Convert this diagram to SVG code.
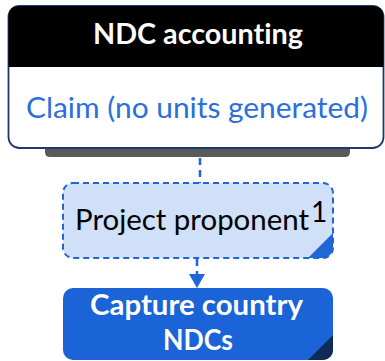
<svg xmlns="http://www.w3.org/2000/svg" width="385" height="361" viewBox="0 0 385 361">
  <style>
    .t { font-family: Lato, "Open Sans", "Liberation Sans", sans-serif; font-size: 28px; font-variant-ligatures: none; }
    .b { font-weight: bold; }
    .conn { stroke: #1f66d6; stroke-width: 2.5; fill: none; stroke-dasharray: 7 5; }
  </style>
  <defs>
    <clipPath id="clipProj"><rect x="63" y="183" width="270" height="75" rx="10"/></clipPath>
    <clipPath id="clipCap"><rect x="63" y="288" width="270" height="72" rx="10"/></clipPath>
  </defs>

  <!-- NDC accounting card with shadow tab -->
  <g id="ndc-accounting">
    <path d="M45,146 H350 V152 Q350,157 345,157 H50 Q45,157 45,152 Z" fill="#5a5a5a"/>
    <rect x="8.5" y="6" width="375" height="142" rx="11" fill="#ffffff" stroke="#1c3b6b" stroke-width="1.8"/>
    <path d="M8.5,67 V17 Q8.5,6 19.5,6 H372.5 Q383.5,6 383.5,17 V67 Z" fill="#000000"/>
    <text class="t b" x="93" y="44" fill="#ffffff" textLength="210" lengthAdjust="spacingAndGlyphs">NDC accounting</text>
    <text class="t" x="26" y="118" fill="#2a6fdb" textLength="342" lengthAdjust="spacingAndGlyphs">Claim (no units generated)</text>
  </g>

  <!-- connectors -->
  <g id="connectors">
    <line class="conn" x1="200" y1="158" x2="200" y2="183"/>
    <line class="conn" x1="197" y1="259" x2="197" y2="274"/>
    <path d="M189,274 H205 L197,288 Z" fill="#1f66d6"/>
  </g>

  <!-- Project proponent -->
  <g id="project-proponent">
    <rect x="63" y="183" width="270" height="75" rx="10" fill="#cfe0f8"/>
    <path d="M308,258 L333,233 V258 Z" fill="#1f66d6" clip-path="url(#clipProj)"/>
    <rect x="63" y="183" width="270" height="75" rx="10" fill="none" stroke="#1f66d6" stroke-width="2" stroke-dasharray="6 4"/>
    <text class="t" x="75" y="230" fill="#000000" textLength="234" lengthAdjust="spacingAndGlyphs">Project proponent</text>
    <text class="t" x="311" y="222" fill="#000000" font-size="14">1</text>
  </g>

  <!-- Capture country NDCs -->
  <g id="capture-ndcs">
    <rect x="63" y="288" width="270" height="72" rx="10" fill="#1b64d8"/>
    <path d="M308,360 L333,335 V360 Z" fill="#0e2a55" clip-path="url(#clipCap)"/>
    <text class="t b" x="90" y="315" fill="#ffffff" textLength="213" lengthAdjust="spacingAndGlyphs">Capture country</text>
    <text class="t b" x="163" y="350" fill="#ffffff" textLength="70" lengthAdjust="spacingAndGlyphs">NDCs</text>
  </g>
</svg>
